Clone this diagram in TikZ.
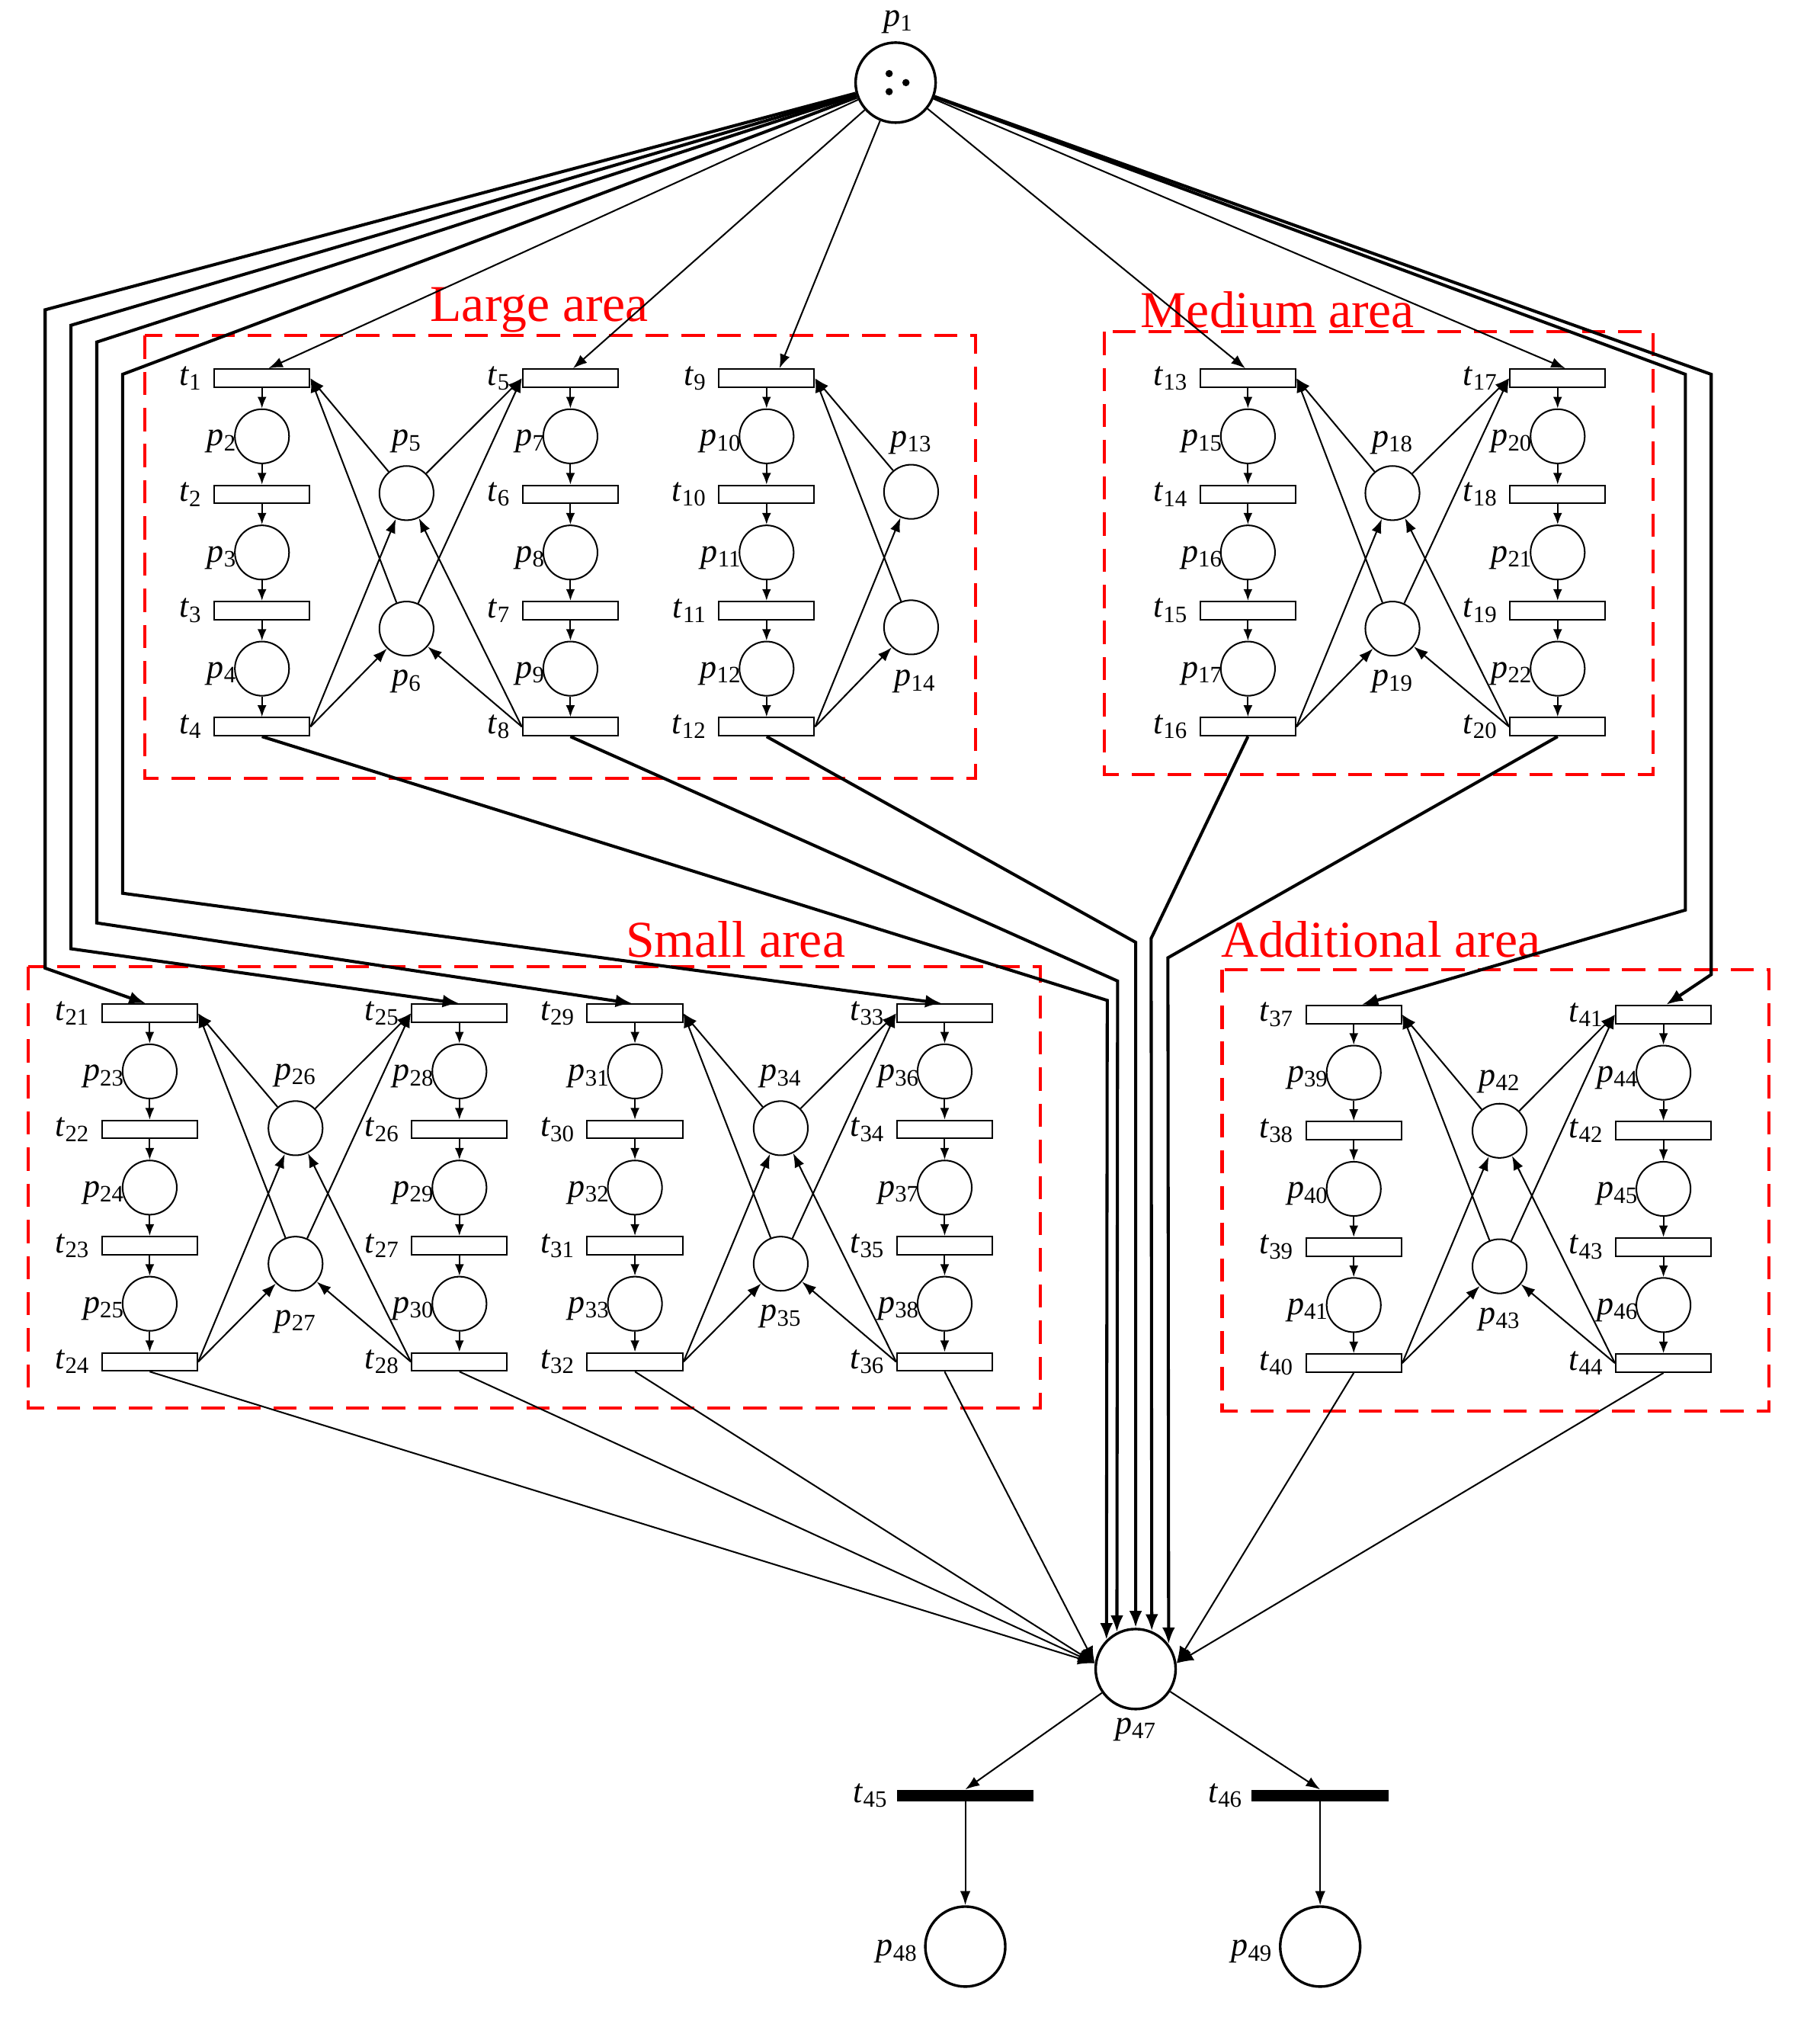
\documentclass[tikz,border=0pt]{standalone}
\usepackage{fontspec}
\setmainfont{Liberation Serif}
\usetikzlibrary{arrows.meta}
\newcommand\pl[1]{\textit{p}\textsubscript{#1}}
\newcommand\tl[1]{\textit{t}\textsubscript{#1}}
\tikzset{
  trans/.style={draw,line width=1.2pt,minimum width=74pt,minimum height=14pt,inner sep=0pt},
  place/.style={draw,circle,line width=1.2pt,minimum size=42pt,inner sep=0pt},
  lbl/.style={font=\fontsize{26}{28}\selectfont,inner sep=1pt},
  arc/.style={-{Latex[length=11pt,width=8pt]},line width=1.2pt},
  sarc/.style={-{Latex[length=9pt,width=7pt]},line width=1.2pt},
  tarc/.style={-{Latex[length=13pt,width=10pt]},line width=2.4pt},
  area/.style={draw=red,dashed,dash pattern=on 18pt off 10pt,line width=2.4pt},
  alabel/.style={text=red,font=\fontsize{40}{44}\selectfont,inner sep=0pt},
}
% column: x, y0, first t index, first p index
\newcommand\mkcol[4]{%
  \foreach \i in {0,1,2,3}{%
    \pgfmathtruncatemacro\tn{#3+\i}%
    \node[trans] (t\tn) at (#1,#2+90*\i) {};
    \node[lbl,anchor=east] at ([xshift=-8pt]t\tn.west) {\tl{\tn}};
  }
  \foreach \i in {0,1,2}{%
    \pgfmathtruncatemacro\pn{#4+\i}%
    \pgfmathtruncatemacro\ta{#3+\i}%
    \pgfmathtruncatemacro\tb{#3+\i+1}%
    \node[place] (p\pn) at (#1,#2+45+90*\i) {};
    \node[lbl,anchor=east] at ([xshift=3pt,yshift=-4pt]p\pn.west) {\pl{\pn}};
    \draw[sarc] (t\ta) -- (p\pn);
    \draw[sarc] (p\pn) -- (t\tb);
  }
}
\begin{document}
\begin{tikzpicture}[x=1pt,y=-1pt]
\useasboundingbox (0,0) rectangle (1410,1568);
% areas
\draw[area] (112,260) rectangle (756,603);
\draw[area] (856,257) rectangle (1281,600);
\draw[area] (22,749) rectangle (806,1091);
\draw[area] (947,751) rectangle (1371,1093);
\node[alabel] at (418,240) {Large area};
\node[alabel] at (990,240) {Medium area};
\node[alabel] at (570,728) {Small area};
\node[alabel] at (1070,728) {Additional area};
% columns
\mkcol{203}{293}{1}{2}
\mkcol{442}{293}{5}{7}
\mkcol{594}{293}{9}{10}
\mkcol{967}{293}{13}{15}
\mkcol{1207}{293}{17}{20}
\mkcol{116}{785}{21}{23}
\mkcol{356}{785}{25}{28}
\mkcol{492}{785}{29}{31}
\mkcol{732}{785}{33}{36}
\mkcol{1049}{786}{37}{39}
\mkcol{1289}{786}{41}{44}
% resource places
\newcommand\mkres[9]{% x, yA, yB, pA, pB, tTL, tBL, tTR, tBR
  \node[place] (p#4) at (#1,#2) {};
  \node[place] (p#5) at (#1,#3) {};
  \draw[arc] (p#4) -- (t#6.east);
  \draw[arc] (p#5) -- (t#6.east);
  \draw[arc] (t#7.east) -- (p#4);
  \draw[arc] (t#7.east) -- (p#5);
  \draw[arc] (p#4) -- (t#8.west);
  \draw[arc] (p#5) -- (t#8.west);
  \draw[arc] (t#9.west) -- (p#4);
  \draw[arc] (t#9.west) -- (p#5);
}
\mkres{315}{382}{487}{5}{6}{1}{4}{5}{8}
\mkres{1079}{382}{487}{18}{19}{13}{16}{17}{20}
\mkres{229}{874}{979}{26}{27}{21}{24}{25}{28}
\mkres{605}{874}{979}{34}{35}{29}{32}{33}{36}
\mkres{1162}{876}{981}{42}{43}{37}{40}{41}{44}
\node[place] (p13) at (706,381) {};
\node[place] (p14) at (706,486) {};
\draw[arc] (p13) -- (t9.east);
\draw[arc] (p14) -- (t9.east);
\draw[arc] (t12.east) -- (p13);
\draw[arc] (t12.east) -- (p14);
\foreach \n/\x/\y in {5/315/342,18/1079/343,26/229/833,34/605/834,42/1162/838,13/706/343}
  \node[lbl] at (\x,\y) {\pl{\n}};
\foreach \n/\x/\y in {6/315/528,19/1079/528,27/229/1024,35/605/1020,43/1162/1022,14/709/528}
  \node[lbl] at (\x,\y) {\pl{\n}};
% p1
\node[place,minimum size=62pt,line width=2pt] (p1) at (694,64) {};
\node[lbl] at (696,17) {\pl{1}};
\foreach \a/\b in {-5/-7,-5/7,8/0} \fill (694+\a,64+\b) circle (2.8pt);
% p1 to large / medium
\draw[arc] (p1) -- ([xshift=5pt]t1.north);
\draw[arc] (p1) -- ([xshift=2pt]t5.north);
\draw[arc] (p1) -- ([xshift=10pt]t9.north);
\draw[arc] (p1) -- ([xshift=-2pt]t13.north);
\draw[arc] (p1) -- ([xshift=6pt]t17.north);
% p1 to small / additional
\draw[tarc] (p1) -- (35,240) -- (35,750) -- ([xshift=-3pt]t21.north);
\draw[tarc] (p1) -- (55,252) -- (55,735) -- (t25.north);
\draw[tarc] (p1) -- (75,265) -- (75,715) -- ([xshift=-2pt]t29.north);
\draw[tarc] (p1) -- (95,290) -- (95,692) -- ([xshift=-2pt]t33.north);
\draw[tarc] (p1) -- (1306,290) -- (1306,705) -- ([xshift=6pt]t37.north);
\draw[tarc] (p1) -- (1326,290) -- (1326,755) -- ([xshift=2pt]t41.north);
% p47 etc
\node[place,minimum size=62pt,line width=2pt] (p47) at (880,1293) {};
\node[lbl] at (880,1340) {\pl{47}};
\draw[tarc] (t4.south) -- (858,775) -- (p47.135);
\draw[tarc] (t8.south) -- (866,760) -- (p47.117);
\draw[tarc] (t12.south) -- (880,730) -- (p47.90);
\draw[tarc] (t16.south) -- (892,727) -- (p47.67);
\draw[tarc] (t20.south) -- (905,742) -- (p47.37);
\foreach \t in {24,28,32,36} \draw[tarc,line width=1.2pt] (t\t.south) -- (p47.172);
\foreach \t in {40,44} \draw[tarc,line width=1.2pt] (t\t.south) -- (p47.8);
\node[fill,minimum width=106pt,minimum height=9pt,inner sep=0pt] (t45) at (748,1391) {};
\node[fill,minimum width=106pt,minimum height=9pt,inner sep=0pt] (t46) at (1023,1391) {};
\node[lbl,anchor=east] at ([xshift=-6pt]t45.west) {\tl{45}};
\node[lbl,anchor=east] at ([xshift=-6pt]t46.west) {\tl{46}};
\node[place,minimum size=62pt,line width=2pt] (p48) at (748,1508) {};
\node[place,minimum size=62pt,line width=2pt] (p49) at (1023,1508) {};
\node[lbl,anchor=east] at ([xshift=-4pt,yshift=-4pt]p48.west) {\pl{48}};
\node[lbl,anchor=east] at ([xshift=-4pt,yshift=-4pt]p49.west) {\pl{49}};
\draw[arc] (p47) -- (t45.north);
\draw[arc] (p47) -- (t46.north);
\draw[arc] (t45) -- (p48);
\draw[arc] (t46) -- (p49);
\end{tikzpicture}
\end{document}
